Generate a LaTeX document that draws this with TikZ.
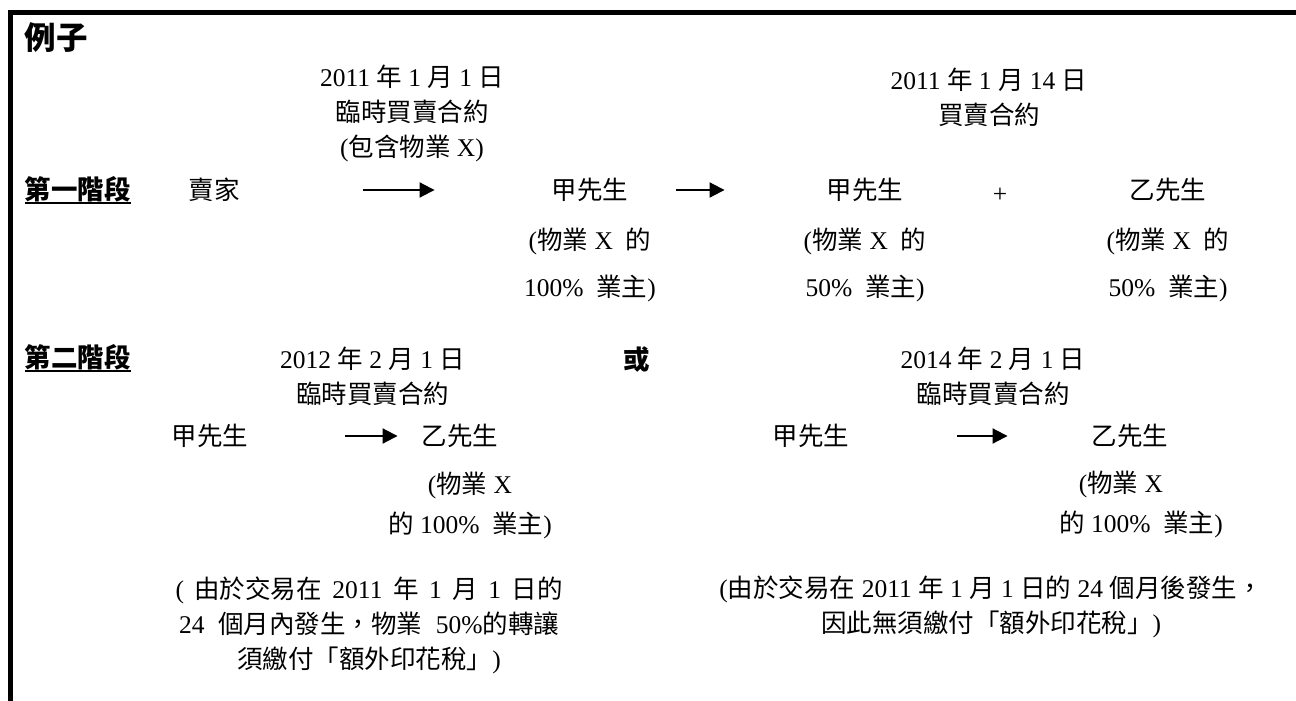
\documentclass[tikz,border=0pt]{standalone}
\usepackage{fontspec}
\setmainfont{Liberation Serif}
\newfontfamily\cjkfont{Noto Sans CJK TC}
\usetikzlibrary{arrows.meta}
\newcommand\cj[1]{{\cjkfont #1}}
\newcommand\ulbox[1]{\setbox0\hbox{#1}\rlap{\rule[-4pt]{\wd0}{2pt}}\box0}
\tikzset{
  txt/.style={inner sep=0pt, font=\fontsize{25.5}{35}\selectfont, align=center},
  lbl/.style={inner sep=0pt, font=\fontsize{26.5}{30}\selectfont\cjkfont\bfseries},
  ttl/.style={inner sep=0pt, font=\fontsize{31.5}{36}\selectfont\cjkfont\bfseries},
  arr/.style={line width=2pt, -{Triangle[length=15pt,width=15pt]}},
  frame/.style={line width=5pt, line join=miter},
}
\begin{document}
\begin{tikzpicture}[x=1pt,y=-1pt]
\useasboundingbox (0,0) rectangle (1296,701);
\fill[white] (0,0) rectangle (1296,701);
\draw[frame] (10.8,701) -- (10.8,12.5) -- (1296,12.5);

\node[ttl] (title) at (56,38) {例子};

% stage 1
\node[lbl] (s1) at (77.5,190) {\ulbox{第一階段}};
\node[txt] (d1) at (412,113.5) {2011 \cj{年} 1 \cj{月} 1 \cj{日}\\\cj{臨時買賣合約}\\(\cj{包含物業} X)};
\node[txt] (d2) at (989,97.5) {2011 \cj{年} 1 \cj{月} 14 \cj{日}\\\cj{買賣合約}};
\node[txt] (seller) at (214,190) {\cj{賣家}};
\node[txt] (a1) at (590,190) {\cj{甲先生}};
\node[txt] (a1own) at (590,265) {(\cj{物業} X\ \ \cj{的}\\[12pt]100\%\ \ \cj{業主})};
\node[txt] (a2) at (865,190) {\cj{甲先生}};
\node[txt] (a2own) at (865,265) {(\cj{物業} X\ \ \cj{的}\\[12pt]50\%\ \ \cj{業主})};
\node[txt] (plus) at (1000,195) {+};
\node[txt] (b1) at (1168,190) {\cj{乙先生}};
\node[txt] (b1own) at (1168,265) {(\cj{物業} X\ \ \cj{的}\\[12pt]50\%\ \ \cj{業主})};
\draw[arr, shorten <=123pt, shorten >=117pt] (seller) -- (a1);
\draw[arr, shorten <=48pt, shorten >=102pt] (a1) -- (a2);

% stage 2
\node[lbl] (s2) at (77.5,358) {\ulbox{第二階段}};
\node[txt] (d3) at (372.5,376) {2012 \cj{年} 2 \cj{月} 1 \cj{日}\\\cj{臨時買賣合約}};
\node[lbl] (or) at (637,360) {或};
\node[txt] (d4) at (993,376.5) {2014 \cj{年} 2 \cj{月} 1 \cj{日}\\\cj{臨時買賣合約}};
\node[txt] (c1) at (210,436) {\cj{甲先生}};
\node[txt] (c2) at (460,436) {\cj{乙先生}};
\node[txt] (c2own) at (470,505) {(\cj{物業} X\\[5pt]\cj{的} 100\%\ \ \cj{業主})};
\node[txt] (e1) at (811,436) {\cj{甲先生}};
\node[txt] (e2) at (1130,436) {\cj{乙先生}};
\node[txt] (e2ownA) at (1121,484) {(\cj{物業} X};
\node[txt] (e2ownB) at (1141,524) {\cj{的} 100\%\ \ \cj{業主})};
\draw[arr, shorten <=97pt, shorten >=24pt] (c1) -- (c2);
\draw[arr, shorten <=108pt, shorten >=84pt] (e1) -- (e2);

\node[txt] (note1) at (369,625) {\makebox[387pt][s]{( \cj{由於交易在} 2011 \cj{年} 1 \cj{月} 1 \cj{日的}}\\\makebox[380pt][s]{24 \cj{個月內發生，物業} 50\%\cj{的轉讓}}\\\cj{須繳付「額外印花稅」})};
\node[txt] (note2) at (991,607) {(\cj{由於交易在} 2011 \cj{年} 1 \cj{月} 1 \cj{日的} 24 \cj{個月後發生，}\\\cj{因此無須繳付「額外印花稅」})};
\end{tikzpicture}
\end{document}
